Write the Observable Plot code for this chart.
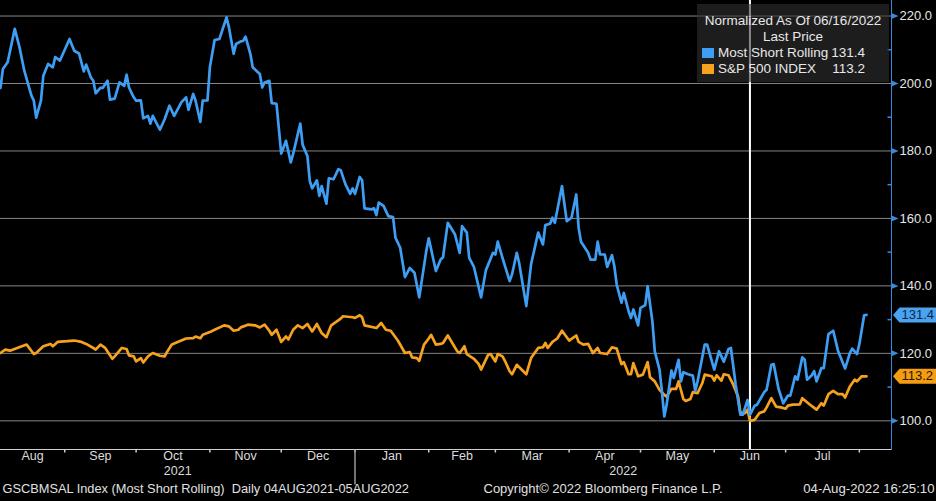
<!DOCTYPE html>
<html><head><meta charset="utf-8">
<script src="https://cdn.jsdelivr.net/npm/d3@7"></script>
<script src="https://cdn.jsdelivr.net/npm/@observablehq/plot@0.6"></script>
<style>
html,body{margin:0;padding:0;background:#000;}
#wrap{position:relative;width:936px;height:501px;overflow:hidden;}
#chart svg{display:block;}
#legend{position:absolute;left:697px;top:4px;width:192px;height:78px;background:rgba(50,50,50,0.58);color:#e8e8e8;font-family:"Liberation Sans",Arial,sans-serif;font-size:13.5px;}
#legend .ln{position:absolute;left:0;right:0;text-align:center;line-height:17px;white-space:nowrap;}
#legend .sw{position:absolute;left:5px;width:12px;height:10px;}
#legend .nm{position:absolute;left:21px;line-height:17px;white-space:nowrap;}
#legend .vl{position:absolute;right:24px;line-height:17px;white-space:nowrap;}
</style></head><body>
<div id="wrap"><div id="chart"></div><div id="legend"></div></div>
<script>
// ---- data ----
const blueDates = ["2021-08-05","2021-08-06","2021-08-08","2021-08-11","2021-08-13","2021-08-15","2021-08-18","2021-08-19","2021-08-20","2021-08-22","2021-08-23","2021-08-25","2021-08-27","2021-08-28","2021-08-30",
"2021-09-03","2021-09-05","2021-09-07","2021-09-09","2021-09-10","2021-09-12","2021-09-13","2021-09-14","2021-09-16","2021-09-17","2021-09-19","2021-09-20","2021-09-22","2021-09-24","2021-09-26","2021-09-27","2021-09-28","2021-09-30",
"2021-10-01","2021-10-03","2021-10-04","2021-10-06","2021-10-07","2021-10-08","2021-10-11","2021-10-13","2021-10-15","2021-10-17","2021-10-20","2021-10-22","2021-10-23","2021-10-25","2021-10-26","2021-10-28","2021-10-29","2021-10-31",
"2021-11-01","2021-11-03","2021-11-05","2021-11-08","2021-11-09","2021-11-11","2021-11-12","2021-11-14","2021-11-15","2021-11-16","2021-11-18","2021-11-19","2021-11-22","2021-11-23","2021-11-24","2021-11-26","2021-11-27","2021-11-29",
"2021-12-01","2021-12-03","2021-12-05","2021-12-06","2021-12-09","2021-12-10","2021-12-12","2021-12-13","2021-12-14","2021-12-16","2021-12-17","2021-12-18","2021-12-20","2021-12-21","2021-12-23","2021-12-25","2021-12-26","2021-12-28","2021-12-30","2021-12-31",
"2022-01-01","2022-01-03","2022-01-04","2022-01-05","2022-01-08","2022-01-09","2022-01-10","2022-01-11","2022-01-13","2022-01-15","2022-01-17","2022-01-18","2022-01-20","2022-01-22","2022-01-24","2022-01-26","2022-01-28","2022-01-31",
"2022-02-01","2022-02-04","2022-02-06","2022-02-07","2022-02-09","2022-02-12","2022-02-14","2022-02-15","2022-02-17","2022-02-18","2022-02-20","2022-02-23","2022-02-25","2022-02-28",
"2022-03-01","2022-03-02","2022-03-04","2022-03-07","2022-03-08","2022-03-10","2022-03-11","2022-03-14","2022-03-16","2022-03-19","2022-03-21","2022-03-22","2022-03-24","2022-03-25","2022-03-26","2022-03-29","2022-03-31",
"2022-04-02","2022-04-04","2022-04-05","2022-04-06","2022-04-09","2022-04-10","2022-04-12","2022-04-13","2022-04-14","2022-04-16","2022-04-17","2022-04-19","2022-04-20","2022-04-21","2022-04-23","2022-04-24","2022-04-26","2022-04-27","2022-04-28","2022-04-30",
"2022-05-01","2022-05-03","2022-05-04","2022-05-06","2022-05-07","2022-05-09","2022-05-10","2022-05-11","2022-05-12","2022-05-14","2022-05-15","2022-05-17","2022-05-18","2022-05-19","2022-05-21","2022-05-23","2022-05-24","2022-05-25","2022-05-28","2022-05-29",
"2022-06-01","2022-06-03","2022-06-04","2022-06-05","2022-06-07","2022-06-08","2022-06-10","2022-06-12","2022-06-13","2022-06-15","2022-06-16","2022-06-18","2022-06-19","2022-06-22","2022-06-23","2022-06-25","2022-06-26","2022-06-28","2022-06-30",
"2022-07-02","2022-07-03","2022-07-05","2022-07-06","2022-07-08","2022-07-09","2022-07-10","2022-07-12","2022-07-13","2022-07-14","2022-07-16","2022-07-17","2022-07-19","2022-07-21","2022-07-23","2022-07-26","2022-07-28","2022-07-29","2022-07-31",
"2022-08-01","2022-08-03","2022-08-04"];
const blueValues = [198.7,204.3,206.3,216.2,210.7,203.8,196.4,194.9,189.9,194.9,202.3,205.8,204.8,207.8,206.8,
213.2,209.7,208.9,203.6,205.6,201.8,200.8,197.1,198.7,198.7,200.8,195.2,195.5,200.3,199.3,202.6,198.8,195.9,
194.9,195.0,189.7,190.4,188.1,190.4,186.3,189.4,193.4,190.4,194.4,195.9,192.2,196.9,194.9,188.6,194.9,195.0,
204.8,212.9,213.2,219.6,216.7,208.8,211.7,212.5,212.6,213.9,208.8,204.8,202.8,198.8,200.3,200.8,194.2,194.0,
179.2,183.0,176.6,179.1,188.1,181.8,178.5,171.1,168.9,171.3,166.7,169.6,164.4,171.9,171.6,174.6,174.3,170.1,167.3,168.9,
167.3,172.3,171.3,163.0,162.7,163.0,161.0,164.7,163.7,160.7,160.4,154.3,151.3,142.6,145.3,143.9,136.6,150.5,
154.1,144.4,147.8,148.5,158.7,155.3,149.8,157.7,155.8,148.3,145.6,136.6,144.6,149.8,
149.3,153.1,148.3,141.4,143.4,149.8,146.8,134.0,146.4,155.8,152.3,158.0,158.4,160.2,158.7,169.6,159.2,
160.2,167.1,157.2,153.1,149.8,147.8,147.8,153.1,149.3,149.3,145.6,149.1,145.9,140.4,135.0,137.9,132.5,130.5,133.0,128.3,
133.5,134.3,139.9,129.5,120.6,115.2,108.7,101.3,104.8,114.9,112.7,118.1,111.7,114.4,113.8,113.4,108.9,111.7,122.6,122.6,
115.2,120.6,119.1,117.5,121.3,121.6,110.7,101.8,101.8,106.2,101.8,104.5,104.8,108.5,109.2,116.6,116.8,109.5,105.2,
107.5,107.5,113.2,112.2,118.8,118.1,112.2,113.5,114.7,111.7,115.6,115.6,125.7,126.7,120.8,115.5,120.1,121.4,119.8,
122.8,131.3,131.4];

const orangeDates = ["2021-08-05","2021-08-07","2021-08-09","2021-08-12","2021-08-16","2021-08-19","2021-08-20","2021-08-23","2021-08-26","2021-08-27","2021-08-29",
"2021-09-02","2021-09-05","2021-09-08","2021-09-10","2021-09-13","2021-09-14","2021-09-16","2021-09-18","2021-09-21","2021-09-22","2021-09-25","2021-09-27","2021-09-28","2021-09-30",
"2021-10-01","2021-10-03","2021-10-04","2021-10-06","2021-10-08","2021-10-11","2021-10-13","2021-10-14","2021-10-16","2021-10-20","2021-10-22","2021-10-25","2021-10-26","2021-10-28","2021-10-29",
"2021-11-01","2021-11-03","2021-11-07","2021-11-09","2021-11-11","2021-11-13","2021-11-14","2021-11-17","2021-11-20","2021-11-22","2021-11-24","2021-11-26","2021-11-27","2021-11-29",
"2021-12-01","2021-12-03","2021-12-04","2021-12-06","2021-12-08","2021-12-10","2021-12-12","2021-12-14","2021-12-16","2021-12-18","2021-12-20","2021-12-22","2021-12-26","2021-12-27","2021-12-31",
"2022-01-01","2022-01-03","2022-01-04","2022-01-05","2022-01-10","2022-01-12","2022-01-14","2022-01-16","2022-01-19","2022-01-22","2022-01-24","2022-01-25","2022-01-27","2022-01-28","2022-01-30",
"2022-02-01","2022-02-02","2022-02-04","2022-02-06","2022-02-07","2022-02-09","2022-02-13","2022-02-14","2022-02-16","2022-02-17","2022-02-20","2022-02-22","2022-02-23","2022-02-26","2022-02-27",
"2022-03-01","2022-03-02","2022-03-04","2022-03-05","2022-03-07","2022-03-08","2022-03-10","2022-03-12","2022-03-14","2022-03-16","2022-03-19","2022-03-21","2022-03-22","2022-03-23","2022-03-25","2022-03-27","2022-03-29",
"2022-04-01","2022-04-04","2022-04-05","2022-04-07","2022-04-09","2022-04-11","2022-04-13","2022-04-14","2022-04-17","2022-04-19","2022-04-21","2022-04-23","2022-04-24","2022-04-26","2022-04-27","2022-04-28","2022-04-30",
"2022-05-02","2022-05-04","2022-05-05","2022-05-07","2022-05-09","2022-05-11","2022-05-12","2022-05-14","2022-05-16","2022-05-17","2022-05-19","2022-05-20","2022-05-22","2022-05-23","2022-05-25","2022-05-27","2022-05-28","2022-05-31",
"2022-06-01","2022-06-02","2022-06-04","2022-06-05","2022-06-07","2022-06-09","2022-06-11","2022-06-12","2022-06-14","2022-06-15","2022-06-16","2022-06-18","2022-06-20","2022-06-22","2022-06-23","2022-06-25","2022-06-27","2022-06-29",
"2022-07-01","2022-07-02","2022-07-04","2022-07-07","2022-07-08","2022-07-11","2022-07-14","2022-07-16","2022-07-17","2022-07-19","2022-07-21","2022-07-23","2022-07-25","2022-07-26","2022-07-28","2022-07-30","2022-07-31",
"2022-08-02","2022-08-04"];
const orangeValues = [120.1,121.1,120.8,121.6,122.6,119.8,120.1,122.1,122.8,122.1,123.4,
123.6,123.8,123.4,122.8,121.6,121.1,122.6,121.6,118.4,119.1,121.6,121.3,119.4,119.1,
117.6,118.6,117.3,119.1,120.1,119.3,119.1,120.4,122.6,123.8,124.4,124.5,125.0,124.5,125.5,
126.3,127.0,128.3,128.0,126.7,127.0,127.7,128.5,128.3,127.7,128.5,126.7,125.5,127.0,
123.4,125.0,124.1,127.0,128.3,127.5,128.7,126.5,128.7,126.0,124.8,128.3,130.3,131.0,130.7,
130.5,131.3,130.7,128.3,127.5,129.0,127.0,126.7,123.8,120.1,120.4,118.8,118.6,117.8,122.6,
124.4,125.5,122.6,122.8,123.1,125.3,120.6,120.1,122.1,119.8,118.4,116.8,115.2,119.6,119.8,
117.6,119.8,119.1,117.8,114.7,113.8,116.6,115.2,113.8,118.6,121.6,121.8,123.1,121.6,123.4,124.4,126.7,
123.8,125.3,123.4,122.6,122.8,120.1,121.6,120.1,119.8,121.8,121.4,116.8,117.4,113.8,113.8,117.1,113.2,
113.7,117.4,112.9,111.7,109.2,107.7,107.2,109.5,109.5,111.7,106.5,105.9,106.5,108.5,108.2,111.2,113.7,113.2,
111.9,113.5,111.9,113.8,113.5,110.7,107.2,102.3,102.3,103.3,100.0,100.3,102.3,102.8,104.0,106.7,104.2,104.0,
103.6,104.5,104.8,104.9,106.7,104.9,103.3,105.2,104.5,107.9,108.9,107.9,107.9,106.9,110.2,112.2,111.7,
113.2,113.2];

const seriesNames = ["Most Short Rolling", "S&P 500 INDEX"];
const lastValues = [131.4, 113.2];
const cursorDate = "2022-06-16";
const monthStarts = ["2021-08-01","2021-09-01","2021-10-01","2021-11-01","2021-12-01","2022-01-01","2022-02-01","2022-03-01","2022-04-01","2022-05-01","2022-06-01","2022-07-01","2022-08-01"];
const monthLabels = ["Aug","Sep","Oct","Nov","Dec","Jan","Feb","Mar","Apr","May","Jun","Jul"];
const yearStarts = ["2021-01-01","2022-01-01","2023-01-01"];
const yearLabels = ["2021","2022"];
const yTicks = [100,120,140,160,180,200,220];
const yMinorTicks = [110,130,150,170,190,210];
const xDomain = ["2021-08-05","2022-08-14T12:00Z"];
const yDomain = [91.5, 224.6];
const footerLeft = "GSCBMSAL Index (Most Short Rolling)  Daily 04AUG2021-05AUG2022";
const footerMid = "Copyright\u00A9 2022 Bloomberg Finance L.P.";
const footerRight = "04-Aug-2022 16:25:10";

// ---- styles ----
const BLUE = "#3d9ef3", ORANGE = "#f7a21e", AXISBLUE = "#3b8ad8";
const TAGBLUE = "#4aa3f0", TAGORANGE = "#f59d12";
const FONT = "'Liberation Sans', Arial, sans-serif";

const parse = d3.isoParse;
const blue = blueDates.map((d, i) => ({date: parse(d), value: blueValues[i]}));
const orange = orangeDates.map((d, i) => ({date: parse(d), value: orangeValues[i]}));
const [d0, d1] = xDomain.map(parse);
const clampD = (d) => new Date(Math.min(Math.max(+d, +d0), +d1));
const mid = (a, b) => new Date((+clampD(a) + +clampD(b)) / 2);
const monthRows = monthLabels.map((label, i) => ({label, date: mid(parse(monthStarts[i]), parse(monthStarts[i + 1]))}));
const monthTicks = monthStarts.map(parse).filter(d => d >= d0 && d <= d1);
const yearRows = yearLabels.map((label, i) => ({label, date: mid(parse(yearStarts[i]), parse(yearStarts[i + 1]))}));
const yearSeps = yearStarts.map(parse).filter(d => d > d0 && d < d1);
const tags = lastValues.map((v, i) => ({v, fill: i === 0 ? TAGBLUE : TAGORANGE, text: i === 0 ? "#0c2747" : "#2a1700"}));

const arrowRight = {draw(ctx) { ctx.moveTo(0, -3); ctx.lineTo(7, 0); ctx.lineTo(0, 3); ctx.closePath(); }};
const tagShape = {draw(ctx) { ctx.moveTo(1.5, 0); ctx.lineTo(8, -7.5); ctx.lineTo(46, -7.5); ctx.lineTo(46, 7.5); ctx.lineTo(8, 7.5); ctx.closePath(); }};
const vTick = (a, b) => ({draw(ctx) { ctx.moveTo(0, a); ctx.lineTo(0, b); }});
const hTickLeft = {draw(ctx) { ctx.moveTo(-4, 0); ctx.lineTo(0, 0); }};

const chart = Plot.plot({
  width: 936, height: 501,
  marginLeft: 0, marginRight: 45, marginTop: 0, marginBottom: 52,
  style: {background: "#000", color: "#dcdcdc", fontFamily: FONT, fontSize: "13px"},
  x: {type: "utc", domain: [d0, d1], axis: null},
  y: {domain: yDomain, axis: null},
  marks: [
    Plot.ruleY(yTicks, {stroke: "#858585", strokeWidth: 1}),
    Plot.ruleX([parse(cursorDate)], {stroke: "#ffffff", strokeWidth: 2}),
    Plot.line(orange, {x: "date", y: "value", stroke: ORANGE, strokeWidth: 2.7, strokeLinejoin: "round"}),
    Plot.line(blue, {x: "date", y: "value", stroke: BLUE, strokeWidth: 2.7, strokeLinejoin: "round"}),
    Plot.frame({anchor: "bottom", stroke: "#d0d0d0"}),
    Plot.frame({anchor: "right", stroke: AXISBLUE}),
    // month boundary ticks
    Plot.dot(monthTicks, {x: d => d, frameAnchor: "bottom", symbol: vTick(0, 3), stroke: "#d0d0d0", fill: "none"}),
    Plot.dot(yearSeps, {x: d => d, frameAnchor: "bottom", symbol: vTick(0, 35), stroke: "#9a9a9a", fill: "none"}),
    Plot.text(monthRows, {x: "date", text: "label", frameAnchor: "bottom", dy: 10, fill: "#dcdcdc", fontSize: 12.5}),
    Plot.text(yearRows, {x: "date", text: "label", frameAnchor: "bottom", dy: 25, fill: "#dcdcdc", fontSize: 12.5}),
    // right axis
    Plot.dot(yTicks, {y: d => d, frameAnchor: "right", symbol: arrowRight, fill: AXISBLUE, stroke: "none"}),
    Plot.dot(yMinorTicks, {y: d => d, frameAnchor: "right", symbol: hTickLeft, stroke: AXISBLUE, fill: "none"}),
    Plot.text(yTicks, {y: d => d, text: d => d.toFixed(1), frameAnchor: "right", dx: 8, textAnchor: "start", fill: "#e6e6e6", fontSize: 13}),
    // last value tags
    Plot.dot(tags, {y: "v", frameAnchor: "right", symbol: tagShape, fill: "fill", stroke: "none"}),
    Plot.text(tags, {y: "v", text: d => d.v.toFixed(1), frameAnchor: "right", dx: 10, textAnchor: "start", fill: "text", fontSize: 13}),
    // footer
    Plot.text([footerLeft], {frameAnchor: "bottom-left", dx: 2, dy: 43, textAnchor: "start", fill: "#e0e0e0", fontSize: 12.8}),
    Plot.text([footerMid], {frameAnchor: "bottom-left", dx: 483, dy: 43, textAnchor: "start", fill: "#e0e0e0", fontSize: 13}),
    Plot.text([footerRight], {frameAnchor: "bottom-right", dx: 43, dy: 43, textAnchor: "end", fill: "#e0e0e0", fontSize: 13.2})
  ]
});
document.getElementById("chart").appendChild(chart);

// ---- legend (HTML overlay) ----
const legend = document.getElementById("legend");
const fmt = d3.utcFormat("%m/%d/%Y");
const colors = [BLUE, ORANGE];
let html = `<div class="ln" style="top:8px">Normalized As Of ${fmt(parse(cursorDate))}</div>`;
html += `<div class="ln" style="top:24px">Last Price</div>`;
seriesNames.forEach((name, i) => {
  const top = 40 + i * 16;
  html += `<div class="sw" style="top:${top + 4}px;background:${colors[i]}"></div>`;
  html += `<div class="nm" style="top:${top}px">${name}</div>`;
  html += `<div class="vl" style="top:${top}px">${lastValues[i].toFixed(1)}</div>`;
});
legend.innerHTML = html;
</script>
</body></html>
